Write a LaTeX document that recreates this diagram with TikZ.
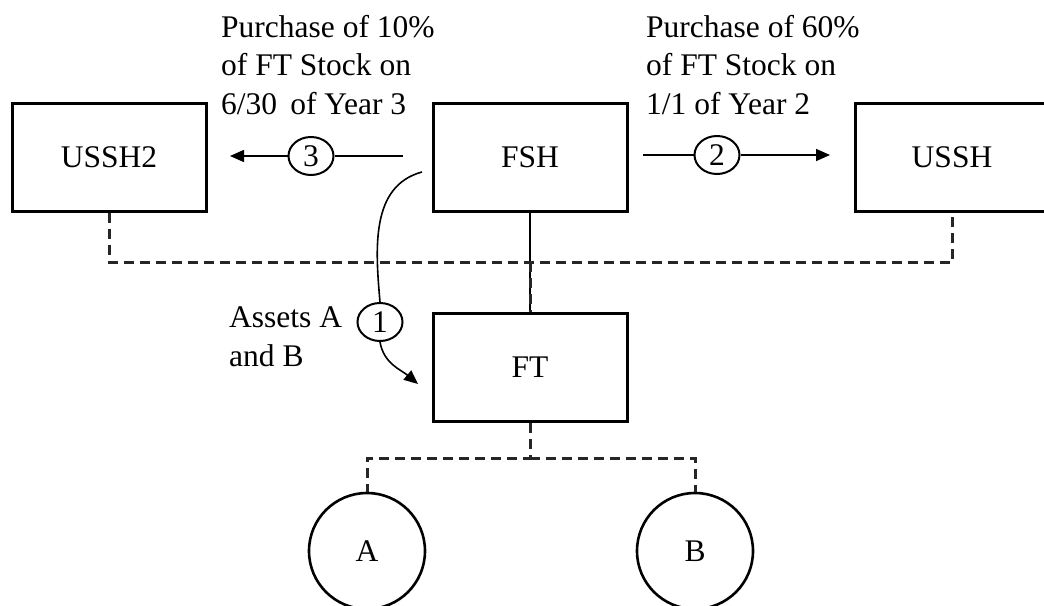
\documentclass[tikz,border=0pt]{standalone}
\usepackage{fontspec}
\setmainfont{Liberation Serif}
\usetikzlibrary{shapes.geometric,arrows.meta}
\begin{document}
\begin{tikzpicture}[x=1pt,y=-1pt,
  font=\fontsize{31.5}{38.5}\selectfont,
  entity/.style={draw,line width=3pt,minimum width=194pt,minimum height=108pt,inner sep=0pt},
  asset/.style={draw,circle,line width=2.6pt,minimum size=116pt,inner sep=0pt},
  stepno/.style={draw,ellipse,line width=2pt,minimum width=45pt,minimum height=38pt,inner sep=0pt},
  flow/.style={line width=1.6pt},
  flowtip/.style={line width=1.6pt,-{Triangle[length=14pt,width=12pt]}},
  owns/.style={line width=3pt,draw=black!85,dash pattern=on 10pt off 6pt},
  note/.style={align=left,anchor=base west,inner sep=0pt}]
\useasboundingbox (0,0) rectangle (1044,605);
\begin{scope}
\clip (0,0) rectangle (1044,605);

% entities
\node[entity] (ussh2) at (109,157) {USSH2};
\node[entity] (fsh)   at (530,157) {FSH};
\node[entity] (ussh)  at (952,157.5) {USSH};
\node[entity] (ft)    at (530,367.5) {FT};

% assets held by FT
\node[asset] (a) at (367,551) {A};
\node[asset] (b) at (695,551) {B};

% ownership links
\draw[flow] (fsh.south) -- (ft.north);
\draw[owns] (ussh2.south) |- (530,262) -| (ussh.south);
\draw[owns] (530,262) -- (ft.north);
\draw[owns] (ft.south) -- (530,458) -| (a.north);
\draw[owns] (530,458) -| (b.north);

% transaction 3: purchase by USSH2
\coordinate (t3s) at (403,156);
\coordinate (t3e) at (230,156);
\node[stepno] (n3) at (311,156) {3};
\draw[flow] (t3s) -- (n3);
\draw[flowtip] (n3) -- (t3e);
\node[note] (l3) at (221,114) {Purchase of 10\%\\of FT Stock on\\6/30\, of Year 3};

% transaction 2: purchase by USSH
\coordinate (t2s) at (643,155);
\coordinate (t2e) at (830,155);
\node[stepno] (n2) at (717,155) {2};
\draw[flow] (t2s) -- (n2);
\draw[flowtip] (n2) -- (t2e);
\node[note] (l2) at (646,114) {Purchase of 60\%\\of FT Stock on\\1/1 of Year 2};

% transaction 1: transfer of assets to FT
\coordinate (t1s) at (422,172);
\coordinate (t1e) at (418,384);
\node[stepno] (n1) at (380,322) {1};
\draw[flow] (t1s) to[out=195,in=95] (n1.north);
\draw[flowtip] (n1.south) to[out=-80,in=140] (t1e);
\node[note] (l1) at (229,366) {Assets A\\and B};
\end{scope}
\end{tikzpicture}
\end{document}
